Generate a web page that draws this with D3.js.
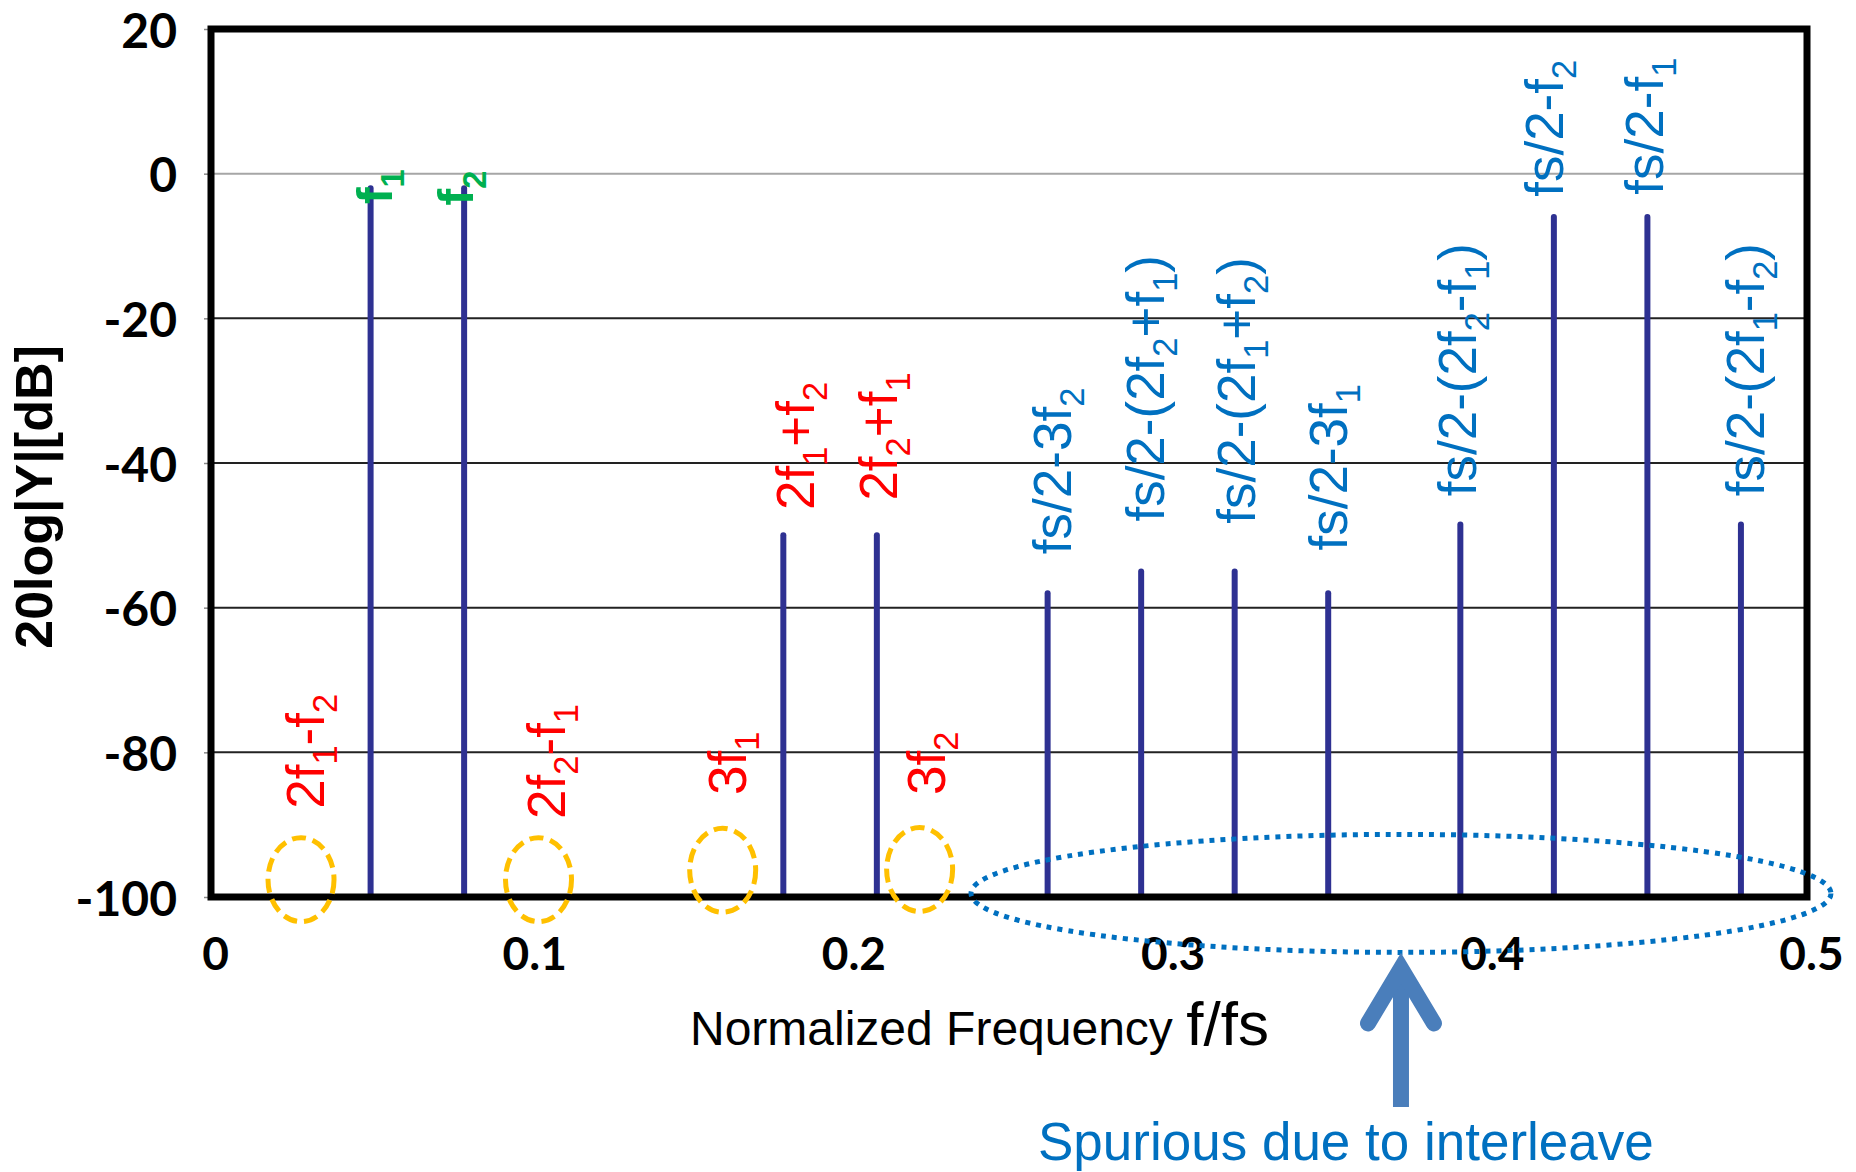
<!DOCTYPE html>
<html>
<head>
<meta charset="utf-8">
<script src="https://cdn.jsdelivr.net/npm/d3@7"></script>
<style>
  html, body { margin: 0; padding: 0; background: #fff; }
  svg { display: block; }
</style>
</head>
<body>
<div id="chart"></div>
<script>
// spectral lines (normalized frequency, level in dB)
const spurFreq = [0.0500, 0.0793, 0.1793, 0.2086, 0.2621, 0.2914, 0.3207, 0.3500, 0.3914, 0.4207, 0.4500, 0.4793];
const spurDb = [-2, -2, -50, -50, -58, -55, -55, -58, -48.5, -6, -6, -48.5];

const yTicks = [20, 0, -20, -40, -60, -80, -100];
const yTickLabels = ['20', '0', '-20', '-40', '-60', '-80', '-100'];
const xTicks = [0, 0.1, 0.2, 0.3, 0.4, 0.5];
const xTickLabels = ['0', '0.1', '0.2', '0.3', '0.4', '0.5'];

// annotation labels, "_n" marks a subscript; anchor given in data units
const labelText = ['f_1', 'f_2', '2f_1-f_2', '2f_2-f_1', '3f_1', '3f_2', '2f_1+f_2', '2f_2+f_1',
    'fs/2-3f_2', 'fs/2-(2f_2+f_1)', 'fs/2-(2f_1+f_2)', 'fs/2-3f_1', 'fs/2-(2f_2-f_1)',
    'fs/2-f_2', 'fs/2-f_1', 'fs/2-(2f_1-f_2)'];
const labelGroup = ['tone', 'tone', 'im', 'im', 'im', 'im', 'im', 'im',
    'alias', 'alias', 'alias', 'alias', 'alias', 'alias', 'alias', 'alias'];
const labelFreq = [0.0567, 0.0821, 0.0354, 0.1109, 0.1676, 0.2300, 0.1889, 0.2149,
    0.2694, 0.2986, 0.3271, 0.3559, 0.3963, 0.4236, 0.4549, 0.4865];
const labelDb = [-4.2, -4.4, -87.8, -89.2, -85.9, -85.9, -46.5, -45.2,
    -52.6, -48.1, -48.4, -52.1, -44.6, -3.2, -2.9, -44.6];

// missing harmonics (dashed circles)
const missingFreq = [0.0282, 0.1026, 0.1603, 0.2220];
const missingDb = [-97.6, -97.6, -96.3, -96.2];

// spurs caused by interleaving (dotted ellipse + arrow)
const interleaveRange = [0.2381, 0.5075];
const interleaveDb = -99.5;

const width = 1856;
const height = 1172;

const margins = { top: 29, right: 49, bottom: 275, left: 211 };

const colors = { tone: '#00B050', im: '#FF0000', alias: '#0070C0' };
const labelFont = '"Liberation Sans", Arial, sans-serif';
const tickFont = 'Lato, "Open Sans", sans-serif';

const svg = d3.select('#chart')
    .append('svg')
    .attr('width', width)
    .attr('height', height);

svg.append('rect')
    .attr('width', width)
    .attr('height', height)
    .attr('fill', '#fff');

const x = d3.scaleLinear()
    .domain([0, 0.5])
    .range([margins.left, width - margins.right]);

const y = d3.scaleLinear()
    .domain([-100, 20])
    .range([height - margins.bottom, margins.top]);

// gridlines
svg.append('g')
    .selectAll('line')
    .data(yTicks.filter(d => d > -100 && d < 20))
    .join('line')
    .attr('x1', x(0))
    .attr('x2', x(0.5))
    .attr('y1', d => y(d))
    .attr('y2', d => y(d))
    .attr('stroke', d => d === 0 ? '#a6a6a6' : '#222')
    .attr('stroke-width', 2);

// y axis labels
const leftAxis = svg.append('g')
    .attr('transform', `translate(${x(0)},0)`)
    .call(d3.axisLeft(y).tickValues(yTicks).tickSize(7).tickPadding(27)
        .tickFormat((d, i) => yTickLabels[i]));
leftAxis.select('.domain').remove();
leftAxis.selectAll('.tick line').attr('stroke', '#888').attr('stroke-width', 1.5);
leftAxis.selectAll('.tick text')
    .attr('font-family', tickFont)
    .attr('font-weight', 'bold')
    .attr('font-size', 48)
    .attr('fill', '#000')
    .attr('dy', '0.38em');

// x axis labels
const bottomAxis = svg.append('g')
    .attr('transform', `translate(0,${y(-100)})`)
    .call(d3.axisBottom(x).tickValues(xTicks).tickSize(0).tickPadding(40)
        .tickFormat((d, i) => xTickLabels[i]));
bottomAxis.select('.domain').remove();
bottomAxis.selectAll('.tick text')
    .attr('font-family', tickFont)
    .attr('font-weight', 'bold')
    .attr('font-size', 46)
    .attr('fill', '#000')
    .attr('dx', 4);

// spectral lines
svg.append('g')
    .selectAll('line')
    .data(spurFreq.map((f, i) => ({ f: f, db: spurDb[i] })))
    .join('line')
    .attr('x1', d => x(d.f))
    .attr('x2', d => x(d.f))
    .attr('y1', y(-100))
    .attr('y2', d => y(d.db))
    .attr('stroke', '#2E3192')
    .attr('stroke-width', 6)
    .attr('stroke-linecap', 'round');

// frame
svg.append('rect')
    .attr('x', x(0))
    .attr('y', y(20))
    .attr('width', x(0.5) - x(0))
    .attr('height', y(-100) - y(20))
    .attr('fill', 'none')
    .attr('stroke', '#000')
    .attr('stroke-width', 7);

// rotated labels with subscripts
const addRich = (textSel, str, size) => {
    const parts = str.split(/(_\d)/).filter(s => s.length);
    let shifted = false;
    parts.forEach(p => {
        if (p[0] === '_') {
            textSel.append('tspan')
                .attr('font-size', size * 0.65)
                .attr('dy', size * 0.25)
                .text(p.slice(1));
            shifted = true;
        } else {
            const t = textSel.append('tspan').text(p);
            if (shifted) {
                t.attr('dy', -size * 0.25);
                shifted = false;
            }
        }
    });
};

const labels = svg.append('g');
labelText.forEach((txt, i) => {
    const tone = labelGroup[i] === 'tone';
    const size = tone ? 50 : 53;
    const t = labels.append('text')
        .attr('transform', `translate(${x(labelFreq[i])},${y(labelDb[i])}) rotate(-90)`)
        .attr('text-anchor', 'start')
        .attr('font-family', labelFont)
        .attr('font-weight', tone ? 'bold' : 'normal')
        .attr('font-size', size)
        .attr('fill', colors[labelGroup[i]]);
    addRich(t, txt, size);
});

// dashed circles at the missing harmonics
svg.append('g')
    .selectAll('ellipse')
    .data(missingFreq.map((f, i) => ({ f: f, db: missingDb[i] })))
    .join('ellipse')
    .attr('cx', d => x(d.f))
    .attr('cy', d => y(d.db))
    .attr('rx', 33)
    .attr('ry', 42)
    .attr('fill', 'none')
    .attr('stroke', '#FFC000')
    .attr('stroke-width', 5)
    .attr('stroke-dasharray', '14,7');

// dotted ellipse round the interleave spurs
const midF = (interleaveRange[0] + interleaveRange[1]) / 2;
const cx = x(midF);
const cy = y(interleaveDb);
svg.append('ellipse')
    .attr('cx', cx)
    .attr('cy', cy)
    .attr('rx', x(interleaveRange[1]) - cx)
    .attr('ry', 59)
    .attr('fill', 'none')
    .attr('stroke', '#0070C0')
    .attr('stroke-width', 5)
    .attr('stroke-dasharray', '5,6');

// arrow pointing at the ellipse
const arrow = svg.append('g')
    .attr('stroke', '#4A7EBB')
    .attr('stroke-width', 16)
    .attr('fill', 'none');
const tipY = cy + 59 + 16;
arrow.append('line')
    .attr('x1', cx).attr('x2', cx)
    .attr('y1', 1107).attr('y2', tipY + 4);
arrow.append('path')
    .attr('d', `M${cx - 33},${tipY + 55} L${cx},${tipY} L${cx + 33},${tipY + 55}`)
    .attr('stroke-linecap', 'round')
    .attr('stroke-linejoin', 'miter');

// axis titles
svg.append('text')
    .attr('transform', 'translate(52,497) rotate(-90)')
    .attr('text-anchor', 'middle')
    .attr('font-family', labelFont)
    .attr('font-weight', 'bold')
    .attr('font-size', 52)
    .attr('fill', '#000')
    .text('20log|Y|[dB]');

const xTitle = svg.append('text')
    .attr('x', 690)
    .attr('y', 1045)
    .attr('font-family', labelFont)
    .attr('fill', '#000');
xTitle.append('tspan')
    .attr('font-size', 48)
    .text('Normalized Frequency ');
xTitle.append('tspan')
    .attr('font-size', 62)
    .text('f/fs');

svg.append('text')
    .attr('x', 1038)
    .attr('y', 1160)
    .attr('font-family', labelFont)
    .attr('font-size', 53)
    .attr('fill', '#0070C0')
    .text('Spurious due to interleave');
</script>
</body>
</html>
